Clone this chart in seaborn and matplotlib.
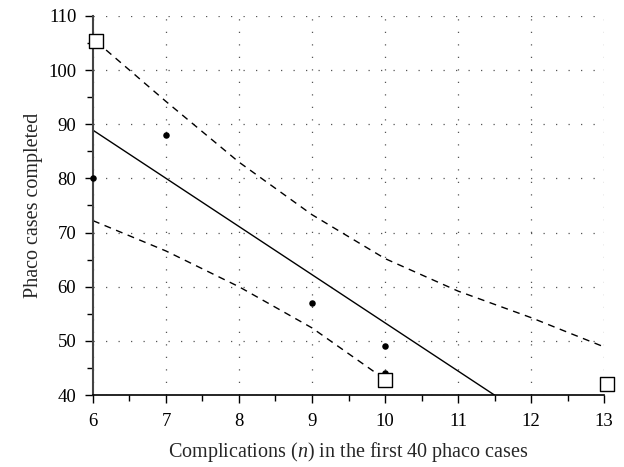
import matplotlib
matplotlib.use("Agg")
import matplotlib.pyplot as plt
from matplotlib.ticker import MultipleLocator
import seaborn as sns
import pandas as pd

# Data
obs_x = [6, 7, 9, 10, 10]
obs_y = [80, 88, 57, 49, 44]
fit_x = [6, 11.5]
fit_y = [88.9, 40]
upper_x = [6.05, 7, 8, 9, 10, 11, 12, 13]
upper_y = [105.2, 94.2, 83.0, 73.3, 65.2, 59.2, 54.3, 48.9]
lower_x = [6, 7, 8, 9, 10]
lower_y = [72.2, 66.6, 60.0, 52.4, 42.9]
sq_x = [6.04, 10.0, 13.04]
sq_y = [105.3, 42.8, 42.0]
x_label = "Complications ($n$) in the first 40 phaco cases"
y_label = "Phaco cases completed"

sns.set_style("white")
plt.rcParams['font.family'] = ['Liberation Serif', 'DejaVu Serif']
plt.rcParams['mathtext.fontset'] = 'custom'
plt.rcParams['mathtext.rm'] = 'Liberation Serif'
plt.rcParams['mathtext.it'] = 'Liberation Serif:italic'

fig = plt.figure(figsize=(6.24, 4.67), dpi=100)
ax = fig.add_axes([0.149, 0.154, 0.819, 0.812])

grid_kw = dict(color='#555555', linestyle=(0, (1, 9)), linewidth=0.9)
ax.set_xlim(6, 13)
ax.set_ylim(40, 110)
ax.xaxis.set_major_locator(MultipleLocator(1))
ax.xaxis.set_minor_locator(MultipleLocator(0.5))
ax.yaxis.set_major_locator(MultipleLocator(10))
ax.yaxis.set_minor_locator(MultipleLocator(5))
ax.grid(True, which='major', **grid_kw)
ax.set_axisbelow(True)

sns.lineplot(x=fit_x, y=fit_y, ax=ax, color='black', linewidth=1.0, sort=False)
sns.lineplot(x=upper_x, y=upper_y, ax=ax, color='black', linewidth=1.0,
             linestyle=(0, (5, 4)), sort=False)
sns.lineplot(x=lower_x, y=lower_y, ax=ax, color='black', linewidth=1.0,
             linestyle=(0, (5, 4)), sort=False)
sns.scatterplot(x=obs_x, y=obs_y, ax=ax, color='black', s=22, edgecolor='black',
                linewidth=0, zorder=4, clip_on=False)
sns.scatterplot(x=sq_x, y=sq_y, ax=ax, marker='s', s=110, facecolor='white',
                edgecolor='black', linewidth=1.0, zorder=5, clip_on=False)

for s in ['top', 'right']:
    ax.spines[s].set_visible(False)
ax.spines['left'].set_color('#444444')
ax.spines['left'].set_linewidth(1.5)
ax.spines['bottom'].set_color('black')
ax.spines['bottom'].set_linewidth(1.2)
ax.tick_params(axis='both', which='major', direction='out', length=6, width=1.0,
               labelsize=13.5, colors='black')
ax.tick_params(axis='both', which='minor', direction='out', length=4, width=1.0,
               colors='black')
ax.tick_params(axis='x', which='major', pad=7)
ax.tick_params(axis='y', which='major', pad=6)
ax.tick_params(axis='x', which='both', bottom=True)
ax.tick_params(axis='y', which='both', left=True)

ax.set_xlabel(x_label, fontsize=14.5, labelpad=7)
ax.set_ylabel(y_label, fontsize=14.5, labelpad=4)

fig.savefig("out.png", dpi=100)
